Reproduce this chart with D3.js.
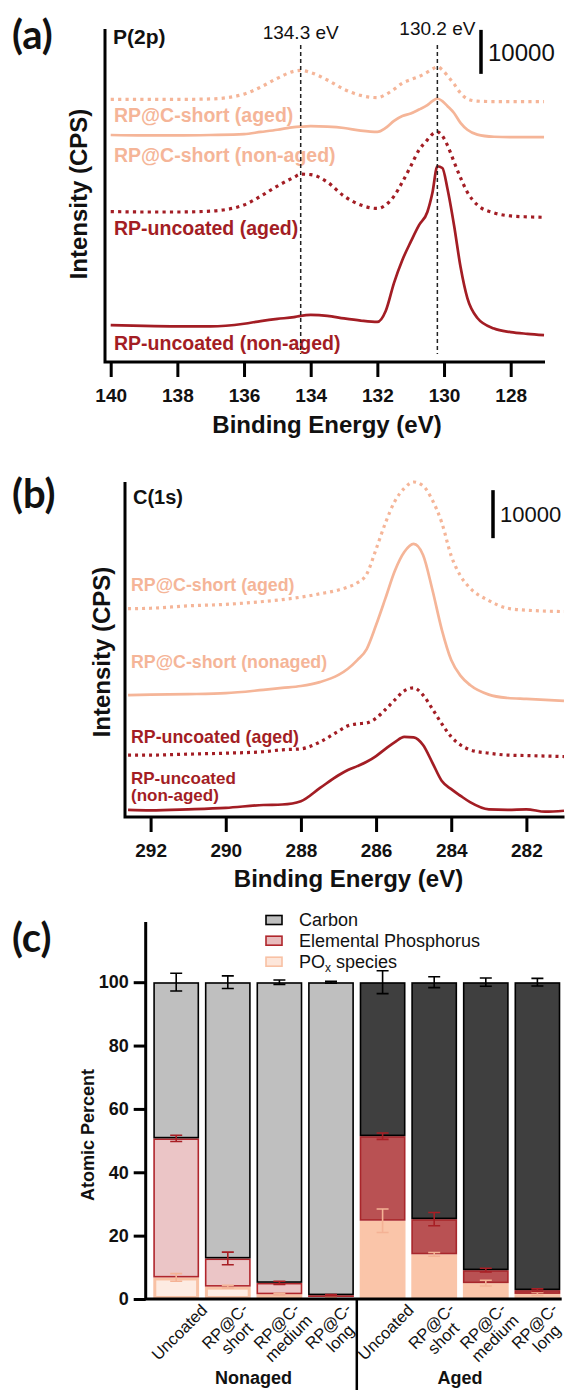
<!DOCTYPE html>
<html>
<head>
<meta charset="utf-8">
<script src="https://cdn.jsdelivr.net/npm/d3@7"></script>
<style>
  html, body { margin: 0; padding: 0; background: #fff; }
  svg { display: block; font-family: "Liberation Sans", Arial, sans-serif; }
</style>
</head>
<body>
<svg id="fig" width="569" height="1390"></svg>
<script>
// ---------------- P(2p) spectra (CPS, stacked with offsets) ----------------
const p2pEnergy = [140, 139, 138, 137, 136, 135.5, 135, 134.5, 134.3, 134, 133.5, 133, 132.5, 132,
  131.75, 131.5, 131.25, 131, 130.75, 130.5, 130.35, 130.2, 130.05, 129.9, 129.7, 129.5, 129.3,
  129, 128.5, 128, 127.5, 127];
const p2pShortAged = [59700, 59700, 59700, 59800, 60900, 62500, 64500, 66100, 66300, 65800, 64100,
  62000, 60600, 60100, 60800, 62000, 63400, 64200, 64900, 65900, 66600, 67100, 66400, 65100, 63200,
  61100, 59800, 59300, 59200, 59200, 59200, 59200];
const p2pShortNonAged = [51600, 51500, 51500, 51600, 51800, 52300, 52800, 53400, 53500, 53600, 53500,
  53200, 52600, 52300, 53200, 54800, 55900, 56500, 57400, 58400, 59300, 59900, 59300, 58200, 56600,
  54300, 52800, 51700, 51200, 51100, 51100, 51100];
const p2pUncoatedAged = [34200, 34100, 34100, 34300, 35700, 37700, 40000, 42000, 42700, 42600, 40900,
  37700, 35700, 34900, 35700, 37700, 40900, 44500, 48200, 50500, 51800, 52300, 51400, 49300, 45500,
  41800, 38600, 35700, 33900, 33200, 33000, 32900];
const p2pUncoatedNonAged = [8400, 8200, 8100, 8100, 8700, 9300, 9800, 10200, 10500, 10700, 10500,
  9900, 9400, 9100, 11600, 18000, 23200, 27300, 31100, 34100, 38400, 44500, 44100, 39500, 31100,
  21400, 14500, 10000, 7600, 6800, 6400, 6100];
const p2pTicks = [140, 138, 136, 134, 132, 130, 128];
const p2pPeaks = [134.3, 130.2];

// ---------------- C(1s) spectra ----------------
const c1sEnergy = [292.6, 292, 291, 290, 289, 288.5, 288, 287.5, 287, 286.75, 286.5, 286.25, 286,
  285.75, 285.5, 285.25, 285, 284.75, 284.5, 284.25, 284, 283.75, 283.5, 283, 282.5, 282, 281.5, 281];
const c1sShortAged = [43400, 43500, 44000, 44300, 44900, 45300, 45800, 46500, 47300, 47900, 48800,
  50600, 55800, 61300, 65800, 68500, 69800, 69000, 66000, 61300, 54400, 50200, 47700, 45100, 43500,
  43100, 42900, 42800];
const c1sShortNonAged = [25400, 25500, 25600, 25800, 26500, 26900, 27300, 28100, 29600, 30900, 32700,
  35000, 40000, 45600, 51300, 55200, 56900, 54600, 47300, 39000, 32700, 29400, 27500, 25500, 24800,
  24600, 24400, 24200];
const c1sUncoatedAged = [12900, 12900, 13100, 13300, 13600, 14000, 14200, 15600, 17900, 19000, 19400,
  19600, 20600, 22400, 24400, 26300, 26900, 25400, 22500, 19400, 16700, 15000, 14000, 13300, 12900,
  12800, 12700, 12600];
const c1sUncoatedNonAged = [1500, 1400, 1600, 1900, 2500, 2600, 3300, 6000, 8700, 9800, 10600, 11500,
  12700, 14200, 15600, 16700, 16600, 15000, 11300, 7500, 5800, 4400, 3100, 1600, 1500, 1600, 1100, 1300];
const c1sTicks = [292, 290, 288, 286, 284, 282];

// ---------------- Atomic percent (XPS quantification) ----------------
const ageGroups = ["Nonaged", "Aged"];
const sampleLabels = [["Uncoated"], ["RP@C-", "short"], ["RP@C-", "medium"], ["RP@C-", "long"]];
const poxPct = [6.8, 3.9, 1.5, 0.6, 24.7, 14.1, 5.0, 1.6];
const elementalPPct = [43.9, 8.9, 3.6, 0.6, 26.7, 11.1, 4.1, 1.2];
const carbonPct = [49.3, 87.2, 94.9, 98.8, 48.6, 74.8, 90.9, 97.2];
const poxErr = [1.2, 0.4, 0.3, 0.2, 3.7, 0.6, 0.9, 0.5];
const elementalPErr = [1.0, 2.0, 0.5, 0.2, 1.0, 2.1, 0.6, 0.4];
const carbonErr = [2.8, 2.0, 0.7, 0.3, 3.6, 1.7, 1.3, 1.2];
const pctTicks = [0, 20, 40, 60, 80, 100];
const legendNames = ["Carbon", "Elemental Phosphorus", "POx species"];

const LIGHT = "#f5b598";
const DARK = "#a31d24";
const fig = d3.select("#fig");

// panel letters
[["(a)", 49], ["(b)", 508], ["(c)", 952]].forEach(([t, yb]) => {
  fig.append("text").attr("x", 12).attr("y", yb).text(t)
    .attr("font-family", "Lato, 'Open Sans', sans-serif").attr("font-weight", 700)
    .attr("font-size", 40).attr("fill", "#111");
});

// ---------- generic spectrum panel ----------
function spectrumPanel(o) {
  const g = fig.append("g");
  const x = d3.scaleLinear().domain(o.tickDomain).range(o.tickRange);
  const y = d3.scaleLinear().domain([0, o.yMax]).range([o.bottom, o.top]);
  const line = d3.line().x(d => x(d[0])).y(d => y(d[1])).curve(d3.curveMonotoneX);

  o.series.forEach(s => {
    g.append("path")
      .datum(o.energy.map((e, i) => [e, s.values[i]]))
      .attr("d", line)
      .attr("fill", "none")
      .attr("stroke", s.color)
      .attr("stroke-width", s.dotted ? 3.2 : 2.7)
      .attr("stroke-dasharray", s.dotted ? o.dash : null)
      .attr("stroke-linejoin", "round");
  });

  // series labels (one text element per line)
  o.labels.forEach(l => {
    l.lines.forEach((s, i) => {
      g.append("text").attr("x", o.labelX).attr("y", l.y + i * o.lineGap)
        .attr("fill", l.color).attr("font-weight", 700)
        .attr("font-size", l.size || o.labelSize).text(s);
    });
  });

  // axes frame
  g.append("path")
    .attr("d", `M${o.axisX},${o.top}V${o.bottom}H${o.axisRight}`)
    .attr("fill", "none").attr("stroke", "#000").attr("stroke-width", 3);

  const ax = g.append("g").attr("transform", `translate(0,${o.bottom})`)
    .call(d3.axisBottom(x).tickValues(o.ticks).tickSize(15).tickPadding(12).tickFormat(d3.format("d")));
  ax.select(".domain").remove();
  ax.selectAll(".tick line").attr("stroke", "#000").attr("stroke-width", 3);
  ax.selectAll(".tick text").attr("font-family", "Liberation Sans, Arial, sans-serif")
    .attr("font-weight", 700).attr("font-size", o.tickSize).attr("fill", "#111");

  g.append("text").attr("x", o.titleX).attr("y", o.titleY).attr("text-anchor", "middle")
    .attr("font-weight", 700).attr("font-size", 24).attr("fill", "#111").text("Binding Energy (eV)");
  g.append("text").attr("transform", `translate(${o.yTitleX},${o.yTitleY}) rotate(-90)`)
    .attr("text-anchor", "middle").attr("dy", "0.35em")
    .attr("font-weight", 700).attr("font-size", 24).attr("fill", "#111").text("Intensity (CPS)");

  // core level name
  g.append("text").attr("x", o.axisX + 8).attr("y", o.nameY).attr("font-weight", 700)
    .attr("font-size", o.nameSize).attr("fill", "#111").text(o.name);

  // 10000 CPS scale bar
  g.append("line").attr("x1", o.barX).attr("x2", o.barX)
    .attr("y1", y(o.barTop)).attr("y2", y(o.barTop - 10000))
    .attr("stroke", "#000").attr("stroke-width", 3.5);
  g.append("text").attr("x", o.barX + 7).attr("y", (y(o.barTop) + y(o.barTop - 10000)) / 2)
    .attr("dy", "0.36em").attr("font-size", o.barFont).attr("fill", "#111").text("10000");

  return { g, x, y };
}

// ---------- (a) P(2p) ----------
const pa = spectrumPanel({
  energy: p2pEnergy, tickDomain: [140, 128], tickRange: [110.7, 510.7],
  yMax: 75700, top: 29, bottom: 362, axisX: 105, axisRight: 545,
  ticks: p2pTicks, tickSize: 19, dash: "3.2,4.2",
  series: [
    { values: p2pShortAged, color: LIGHT, dotted: true },
    { values: p2pShortNonAged, color: LIGHT, dotted: false },
    { values: p2pUncoatedAged, color: DARK, dotted: true },
    { values: p2pUncoatedNonAged, color: DARK, dotted: false }
  ],
  labelX: 114, labelSize: 19.5, lineGap: 17,
  labels: [
    { lines: ["RP@C-short (aged)"], y: 122, color: LIGHT },
    { lines: ["RP@C-short (non-aged)"], y: 162, color: LIGHT },
    { lines: ["RP-uncoated (aged)"], y: 235, color: DARK },
    { lines: ["RP-uncoated (non-aged)"], y: 349.5, color: DARK }
  ],
  titleX: 327, titleY: 433, yTitleX: 79, yTitleY: 194,
  name: "P(2p)", nameY: 44, nameSize: 21,
  barX: 481, barTop: 75500, barFont: 24
});

// peak reference lines
p2pPeaks.forEach((e, i) => {
  const xp = pa.x(e);
  pa.g.append("line").attr("x1", xp).attr("x2", xp).attr("y1", 45).attr("y2", 354)
    .attr("stroke", "#222").attr("stroke-width", 1.5).attr("stroke-dasharray", "4,3");
  pa.g.append("text").attr("x", xp).attr("y", i === 0 ? 38.5 : 35).attr("text-anchor", "middle")
    .attr("font-size", 19).attr("fill", "#111").text(e.toFixed(1) + " eV");
});

// ---------- (b) C(1s) ----------
spectrumPanel({
  energy: c1sEnergy, tickDomain: [292, 282], tickRange: [150.6, 526.4],
  yMax: 69800, top: 482, bottom: 817, axisX: 125, axisRight: 564.5,
  ticks: c1sTicks, tickSize: 19, dash: "3,4",
  series: [
    { values: c1sShortAged, color: LIGHT, dotted: true },
    { values: c1sShortNonAged, color: LIGHT, dotted: false },
    { values: c1sUncoatedAged, color: DARK, dotted: true },
    { values: c1sUncoatedNonAged, color: DARK, dotted: false }
  ],
  labelX: 131, labelSize: 17.8, lineGap: 17,
  labels: [
    { lines: ["RP@C-short (aged)"], y: 591, color: LIGHT },
    { lines: ["RP@C-short (nonaged)"], y: 668, color: LIGHT },
    { lines: ["RP-uncoated (aged)"], y: 743, color: DARK },
    { lines: ["RP-uncoated", "(non-aged)"], y: 784, color: DARK, size: 17 }
  ],
  titleX: 348.5, titleY: 887, yTitleX: 101.5, yTitleY: 652,
  name: "C(1s)", nameY: 504, nameSize: 20,
  barX: 493, barTop: 68100, barFont: 22
});

// ---------- (c) atomic percent ----------
const rows = carbonPct.map((c, i) => ({
  idx: i, group: ageGroups[i < 4 ? 0 : 1], label: sampleLabels[i % 4],
  pox: poxPct[i], elemP: elementalPPct[i], carbon: c,
  poxErr: poxErr[i], elemPErr: elementalPErr[i], carbonErr: carbonErr[i]
}));

const xC = d3.scaleBand().domain(rows.map(r => r.idx)).range([150.4, 563.2])
  .paddingInner(0.112).paddingOuter(0.056);
const yC = d3.scaleLinear().domain([0, 119]).range([1299, 922]);

const fills = {
  Nonaged: { pox: "#fdebe2", elemP: "#ebc5c6", carbon: "#bfbfbf" },
  Aged: { pox: "#fac5a9", elemP: "#b95153", carbon: "#3f3f3f" }
};
const strokes = {
  Nonaged: { pox: "#f8c1a4", elemP: "#b0262c", carbon: "#000" },
  Aged: { pox: "#fac5a9", elemP: "#a8262b", carbon: "#000" }
};
const strokeW = { pox: 3, elemP: 1.6, carbon: 1.6 };
const errColor = { pox: "#f4b295", elemP: "#a81f25", carbon: "#000" };

const keys = ["pox", "elemP", "carbon"];
const stacked = d3.stack().keys(keys)(rows);
const gc = fig.append("g");

stacked.forEach(layer => {
  const k = layer.key;
  gc.append("g").selectAll("rect").data(layer).join("rect")
    .attr("x", d => xC(d.data.idx) + strokeW[k] / 2)
    .attr("width", xC.bandwidth() - strokeW[k])
    .attr("y", d => yC(d[1]) + strokeW[k] / 2)
    .attr("height", d => Math.max(0, yC(d[0]) - yC(d[1]) - strokeW[k]))
    .attr("fill", d => fills[d.data.group][k])
    .attr("stroke", d => strokes[d.data.group][k])
    .attr("stroke-width", strokeW[k]);
});

// error bars at the top of each segment
stacked.forEach(layer => {
  const k = layer.key;
  const errKey = k + "Err";
  const eg = gc.append("g").attr("stroke", errColor[k]).attr("stroke-width", 1.6).attr("fill", "none");
  layer.forEach(d => {
    const cx = xC(d.data.idx) + xC.bandwidth() / 2;
    const e = d.data[errKey];
    const yt = yC(d[1] + e), yb = yC(d[1] - e);
    eg.append("path").attr("d", `M${cx},${yt}V${yb}M${cx - 6},${yt}H${cx + 6}M${cx - 6},${yb}H${cx + 6}`);
  });
});

// axes
const axisLeftX = 145.7;
gc.append("path").attr("d", `M${axisLeftX},922V${yC(0)}H561.7`)
  .attr("fill", "none").attr("stroke", "#000").attr("stroke-width", 3);
const ay = gc.append("g").attr("transform", `translate(${axisLeftX},0)`)
  .call(d3.axisLeft(yC).tickValues(pctTicks).tickSize(12).tickPadding(5));
ay.select(".domain").remove();
ay.selectAll(".tick line").attr("stroke", "#000").attr("stroke-width", 3);
ay.selectAll(".tick text").attr("font-family", "Liberation Sans, Arial, sans-serif")
  .attr("font-weight", 700).attr("font-size", 18).attr("fill", "#111");

gc.append("text").attr("transform", "translate(88,1135) rotate(-90)").attr("text-anchor", "middle")
  .attr("dy", "0.35em").attr("font-weight", 700).attr("font-size", 18).attr("fill", "#111")
  .text("Atomic Percent");

// group divider
const divX = (xC(3) + xC.bandwidth() + xC(4)) / 2;
gc.append("line").attr("x1", divX).attr("x2", divX).attr("y1", yC(0)).attr("y2", 1390)
  .attr("stroke", "#000").attr("stroke-width", 2.5);

// sample labels, rotated
rows.forEach(r => {
  const cx = xC(r.idx) + xC.bandwidth() / 2;
  const n = r.label.length;
  const t = gc.append("text").attr("transform", `translate(${cx + 3},1332) rotate(-45)`)
    .attr("text-anchor", "middle").attr("font-size", 16.5).attr("fill", "#111");
  r.label.forEach((s, i) => {
    t.append("tspan").attr("x", 0).attr("y", (i - (n - 1) / 2) * 17 + 5.9).text(s);
  });
});

// group names
ageGroups.forEach((gname, gi) => {
  const x0 = xC(gi * 4), x1 = xC(gi * 4 + 3) + xC.bandwidth();
  gc.append("text").attr("x", (x0 + x1) / 2).attr("y", 1384).attr("text-anchor", "middle")
    .attr("font-weight", 700).attr("font-size", 18).attr("fill", "#111").text(gname);
});

// legend
const legY = [920, 940.7, 961.7];
keys.slice().reverse().forEach((k, i) => {
  gc.append("rect").attr("x", 266).attr("y", legY[i] - 4.5).attr("width", 16).attr("height", 9)
    .attr("fill", k === "carbon" ? "#bfbfbf" : k === "elemP" ? "#e8bcbd" : "#fde6da")
    .attr("stroke", k === "carbon" ? "#000" : k === "elemP" ? "#b0262c" : "#f8c1a4")
    .attr("stroke-width", 1.6);
  const t = gc.append("text").attr("x", 299).attr("y", legY[i]).attr("dy", "0.36em")
    .attr("font-size", 18).attr("fill", "#111");
  const name = legendNames[i];
  if (name.startsWith("POx")) {
    t.append("tspan").text("PO");
    t.append("tspan").attr("font-size", 12).attr("dy", 4).text("x");
    t.append("tspan").attr("dy", -4).text(" species");
  } else {
    t.text(name);
  }
});
</script>
</body>
</html>
